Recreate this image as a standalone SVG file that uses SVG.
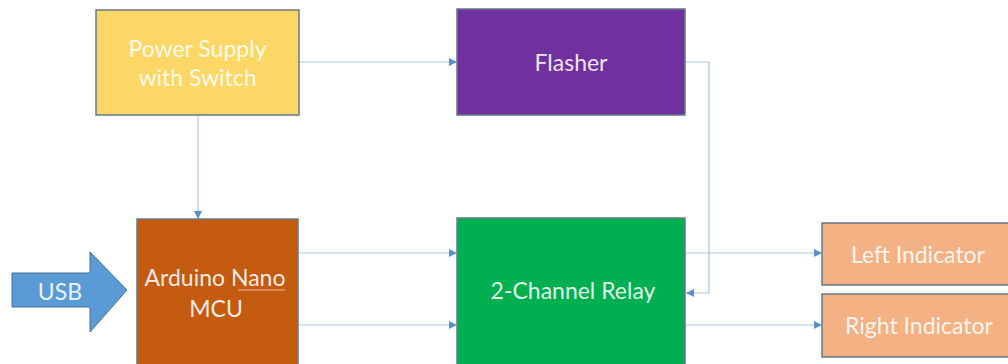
<svg xmlns="http://www.w3.org/2000/svg" width="1008" height="364" viewBox="0 0 1008 364">
<defs>
<style>
.box{stroke:#66788a;stroke-width:1.5}
.lbl{font-family:Lato,"Open Sans",sans-serif;font-size:23px;fill:#ffffff;fill-opacity:0.9;text-anchor:middle}
.con{fill:none;stroke:#a9c8e6;stroke-width:1.2}
</style>
<marker id="ah" viewBox="0 0 10 10" refX="10" refY="5" markerWidth="8" markerHeight="8" markerUnits="userSpaceOnUse" orient="auto">
<path d="M0,0 L10,5 L0,10 z" fill="#5b8fc8"/>
</marker>
</defs>
<rect width="1008" height="364" fill="#ffffff"/>
<g id="connectors">
<path class="con" d="M299,62 H457" marker-end="url(#ah)"/>
<path class="con" d="M198,115 V219" marker-end="url(#ah)"/>
<path class="con" d="M685,62 H709 V293 H686" marker-end="url(#ah)"/>
<path class="con" d="M298,253 H457" marker-end="url(#ah)"/>
<path class="con" d="M298,325 H457" marker-end="url(#ah)"/>
<path class="con" d="M685,253 H822" marker-end="url(#ah)"/>
<path class="con" d="M685,325 H822" marker-end="url(#ah)"/>
</g>
<g id="usb">
<path d="M12,273 H90 V252 L127,290 L90,332 V307 H12 Z" fill="#5b9bd5" stroke="#41719c" stroke-width="1"/>
<text class="lbl" x="60" y="300">USB</text>
</g>
<g id="power-supply">
<rect class="box" x="96" y="10" width="203" height="105" fill="#fdd766"/>
<text class="lbl" x="197.5" y="57">Power Supply</text>
<text class="lbl" x="197.5" y="86">with Switch</text>
</g>
<g id="flasher">
<rect class="box" x="457" y="9" width="228" height="106" fill="#7030a0"/>
<text class="lbl" x="571" y="71">Flasher</text>
</g>
<g id="arduino">
<rect class="box" x="137" y="219" width="161" height="150" fill="#c55a11"/>
<text class="lbl" x="215" y="286">Arduino Nano</text>
<line x1="238" y1="290" x2="285" y2="290" stroke="#f0b8a0" stroke-width="1.2"/>
<text class="lbl" x="216" y="317">MCU</text>
</g>
<g id="relay">
<rect class="box" x="457" y="218" width="228" height="150" fill="#00b050"/>
<text class="lbl" x="573" y="299">2-Channel Relay</text>
</g>
<g id="left-indicator">
<rect class="box" x="822" y="223" width="195" height="62" fill="#f4b183"/>
<text class="lbl" x="918" y="263">Left Indicator</text>
</g>
<g id="right-indicator">
<rect class="box" x="822" y="294" width="195" height="63" fill="#f4b183"/>
<text class="lbl" x="919" y="334">Right Indicator</text>
</g>
</svg>
